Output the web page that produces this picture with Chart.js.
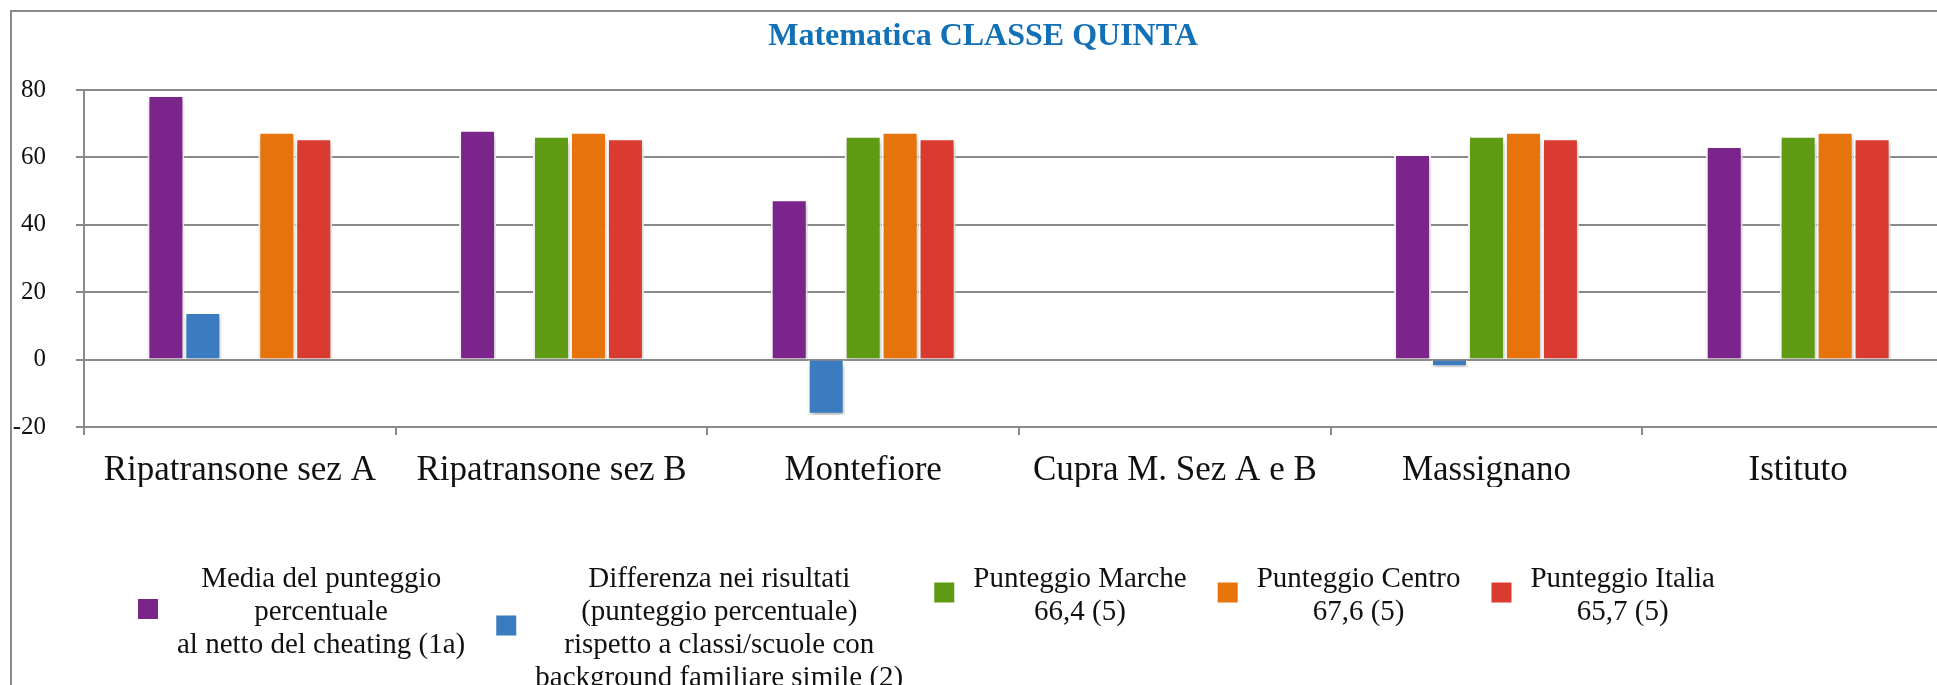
<!DOCTYPE html>
<html>
<head>
<meta charset="utf-8">
<script src="https://cdn.jsdelivr.net/npm/chart.js@4.4.0/dist/chart.umd.min.js"></script>
<style>
    html, body { margin: 0; padding: 0; width: 1937px; height: 685px; overflow: hidden; background: #fff; }
    #box { position: absolute; left: 10px; top: 10px; border: 2px solid #8a8a8a; width: 2016px; height: 720px; }
</style>
</head>
<body>
<div id="box"><canvas id="chartMatematica" width="2016" height="720"></canvas></div>
<script>
// Data
const categories = ['Ripatransone sez A', 'Ripatransone sez B', 'Montefiore', 'Cupra M. Sez A e B', 'Massignano', 'Istituto'];
const mediaPunteggio = [78.5, 68.2, 47.6, null, 61.0, 63.4];
const differenzaRisultati = [14.1, 0, -16.4, null, -2.3, 0];
const punteggioMarche = [null, 66.4, 66.4, null, 66.4, 66.4];
const punteggioCentro = [67.6, 67.6, 67.6, null, 67.6, 67.6];
const punteggioItalia = [65.7, 65.7, 65.7, null, 65.7, 65.7];
const yTicks = [-20, 0, 20, 40, 60, 80];

const labelMedia = 'Media del punteggio\npercentuale\nal netto del cheating (1a)';
const labelDifferenza = 'Differenza nei risultati\n(punteggio percentuale)\nrispetto a classi/scuole con\nbackground familiare simile (2)';
const labelMarche = 'Punteggio Marche\n66,4 (5)';
const labelCentro = 'Punteggio Centro\n67,6 (5)';
const labelItalia = 'Punteggio Italia\n65,7 (5)';

const FONT = '"Liberation Serif", "Times New Roman", serif';
const gridColor = '#8a8a8a';

// Shadow under the bars
const ombraPlugin = {
    id: 'ombra',
    beforeDatasetsDraw(chart) {
        const c = chart.ctx;
        c.save();
        c.shadowColor = 'rgba(0,0,0,0.28)';
        c.shadowBlur = 5;
        c.shadowOffsetX = 1;
        c.shadowOffsetY = 4;
    },
    afterDatasetsDraw(chart) {
        chart.ctx.restore();
    }
};

// Legend below the chart, multi line labels centred, boxes centred on each block
const legendaPlugin = {
    id: 'legenda',
    afterDraw(chart) {
        const ctx = chart.ctx;
        const top = 567, lineH = 33, box = 20;
        let x = 126;
        ctx.save();
        ctx.font = '29px ' + FONT;
        ctx.textAlign = 'center';
        ctx.textBaseline = 'middle';
        chart.data.datasets.forEach(ds => {
            const lines = ds.label.split('\n');
            const w = Math.max(...lines.map(l => ctx.measureText(l).width));
            const midY = top + (lines.length - 1) * lineH / 2 - 3;
            ctx.fillStyle = ds.backgroundColor;
            ctx.fillRect(x, midY - box / 2, box, box);
            ctx.fillStyle = '#111';
            const cx = x + box + 19 + w / 2;
            lines.forEach((l, i) => ctx.fillText(l, cx, top + i * lineH));
            x += box + 19 + w + 31;
        });
        ctx.restore();
    }
};

function makeDataset(label, data, color) {
    return {
        label: label,
        data: data,
        backgroundColor: color,
        borderColor: '#ffffff',
        borderWidth: 2,
        categoryPercentage: 0.593,
        barPercentage: 1.0
    };
}

const ctx = document.getElementById('chartMatematica').getContext('2d');
new Chart(ctx, {
    type: 'bar',
    data: {
        labels: categories,
        datasets: [
            makeDataset(labelMedia, mediaPunteggio, '#7b248c'),
            makeDataset(labelDifferenza, differenzaRisultati, '#3b7bbf'),
            makeDataset(labelMarche, punteggioMarche, '#5e9b13'),
            makeDataset(labelCentro, punteggioCentro, '#e6740a'),
            makeDataset(labelItalia, punteggioItalia, '#da3b31')
        ]
    },
    options: {
        responsive: false,
        devicePixelRatio: 1,
        animation: false,
        layout: {
            padding: { top: 0, right: 74, bottom: 245, left: 0 }
        },
        plugins: {
            legend: { display: false },
            tooltip: { enabled: false },
            title: {
                display: true,
                text: 'Matematica CLASSE QUINTA',
                color: '#1170b6',
                font: { family: FONT, size: 32, weight: 'bold', lineHeight: 1.1 },
                padding: { top: 7, bottom: 35.8 }
            }
        },
        scales: {
            x: {
                grid: {
                    offset: true,
                    drawOnChartArea: false,
                    drawTicks: true,
                    tickLength: 8,
                    color: gridColor,
                    lineWidth: 2
                },
                border: { color: gridColor, width: 2 },
                ticks: {
                    color: '#111',
                    font: { family: FONT, size: 35 },
                    padding: 15,
                    maxRotation: 0,
                    autoSkip: false
                },
                afterFit(scale) { scale.height = 60; }
            },
            y: {
                min: yTicks[0],
                max: yTicks[yTicks.length - 1],
                grid: {
                    color: gridColor,
                    lineWidth: 2,
                    tickLength: 8
                },
                border: { color: gridColor, width: 2 },
                ticks: {
                    stepSize: 20,
                    color: '#111',
                    font: { family: FONT, size: 25 },
                    padding: 30
                },
                afterFit(scale) { scale.width = 72; }
            }
        }
    },
    plugins: [ombraPlugin, legendaPlugin]
});
</script>
</body>
</html>
